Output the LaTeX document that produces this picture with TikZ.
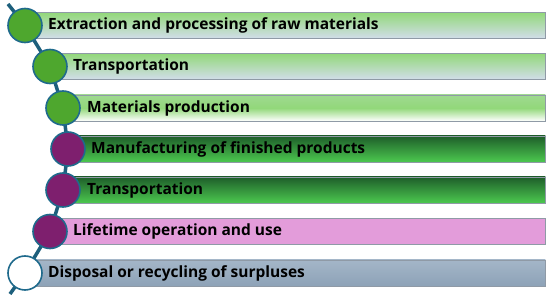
\documentclass[tikz,border=0pt]{standalone}
\usepackage{fontspec}
\setmainfont{Open Sans}
\usetikzlibrary{calc}
\definecolor{spineblue}{HTML}{1D5F7C}
\definecolor{ringblue}{HTML}{1F6A8C}
\definecolor{leafgreen}{HTML}{4EA72E}
\definecolor{plum}{HTML}{7E1F6E}
\definecolor{lightgreen}{HTML}{92D87A}
\definecolor{mistblue}{HTML}{D2DDEA}
\definecolor{darkgreen}{HTML}{1E5E2A}
\definecolor{brightgreen}{HTML}{4CC84F}
\definecolor{pink}{HTML}{E39CDA}
\definecolor{slatetop}{HTML}{A4B6C8}
\definecolor{slatebot}{HTML}{8DA2B7}
\definecolor{edgegray}{HTML}{8F9AA6}
\tikzset{
  bar/.style={draw=edgegray,line width=0.8pt,anchor=west,minimum height=26pt,inner sep=0pt},
  steptext/.style={font=\bfseries\fontsize{15.5}{17.5}\selectfont,text=black,anchor=west,inner sep=0pt},
  dot/.style={circle,draw=ringblue,line width=1.6pt,minimum size=34pt,inner sep=0pt},
  spine/.style={draw=spineblue,line width=3.5pt}
}
\begin{document}
\begin{tikzpicture}[x=1pt,y=-1pt]
\path[use as bounding box] (0,0) rectangle (550,299);
% circle centres along the arc
\coordinate (p1) at (25,25.5); \coordinate (p2) at (50,66.5); \coordinate (p3) at (63,108); \coordinate (p4) at (68,149);
\coordinate (p5) at (63,190); \coordinate (p6) at (50,231.5); \coordinate (p7) at (25,273);
\coordinate (top) at (8,4); \coordinate (bot) at (10,294);
% bars
\node[bar,minimum width=520pt,top color=lightgreen,bottom color=mistblue] (b1) at (p1) {};
\node[bar,minimum width=495pt,top color=lightgreen,bottom color=mistblue] (b2) at (p2) {};
\node[bar,minimum width=482pt,top color=lightgreen!80!mistblue,bottom color=white,middle color=lightgreen] (b3) at (p3) {};
\node[bar,minimum width=477pt,top color=darkgreen,bottom color=brightgreen] (b4) at (p4) {};
\node[bar,minimum width=482pt,top color=darkgreen,bottom color=brightgreen] (b5) at (p5) {};
\node[bar,minimum width=495pt,fill=pink] (b6) at (p6) {};
\node[bar,minimum width=520pt,top color=slatetop,bottom color=slatebot] (b7) at (p7) {};
% spine
\draw[spine] (top)--(p1)--(p2)--(p3)--(p4)--(p5)--(p6)--(p7)--(bot);
% dots
\node[dot,fill=leafgreen] (d1) at (p1) {}; \node[dot,fill=leafgreen] (d2) at (p2) {}; \node[dot,fill=leafgreen] (d3) at (p3) {};
\node[dot,fill=plum] (d4) at (p4) {}; \node[dot,fill=plum] (d5) at (p5) {}; \node[dot,fill=plum] (d6) at (p6) {};
\node[dot,fill=white] (d7) at (p7) {};
% labels
\node[steptext] (t1) at ($(p1)+(23,0)$) {Extraction and processing of raw materials};
\node[steptext] (t2) at ($(p2)+(23,0)$) {Transportation};
\node[steptext] (t3) at ($(p3)+(24,0)$) {Materials production};
\node[steptext] (t4) at ($(p4)+(23,0)$) {Manufacturing of finished products};
\node[steptext] (t5) at ($(p5)+(24,0)$) {Transportation};
\node[steptext] (t6) at ($(p6)+(23,0)$) {Lifetime operation and use};
\node[steptext] (t7) at ($(p7)+(23,0)$) {Disposal or recycling of surpluses};
\end{tikzpicture}
\end{document}
